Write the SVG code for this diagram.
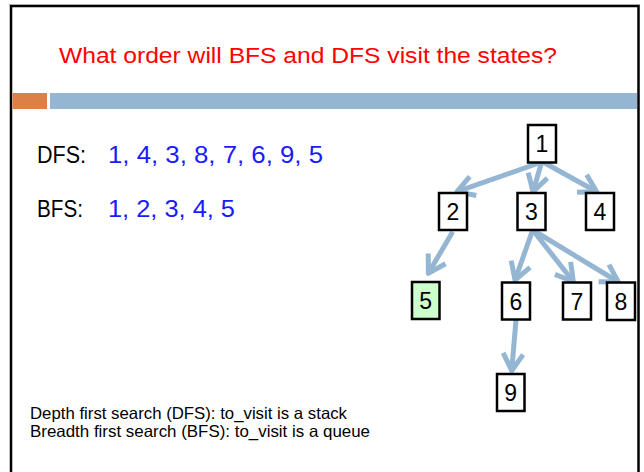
<svg xmlns="http://www.w3.org/2000/svg" width="644" height="472" viewBox="0 0 644 472">
<defs>
<style>
.node rect{fill:#ffffff;stroke:#000000;stroke-width:2.5}
.node text{font-family:"Liberation Sans",Arial,sans-serif;font-size:23px;fill:#000000;text-anchor:middle}
.edge{stroke:#94B6D2;stroke-width:5;fill:none;marker-end:url(#arrow)}
.txt{font-family:"Liberation Sans",Arial,sans-serif}
</style>
<marker id="arrow" markerUnits="userSpaceOnUse" markerWidth="40" markerHeight="40" viewBox="-20 -20 40 40" refX="0" refY="0" orient="auto" overflow="visible">
<path d="M-17,-10 L0,0 L-17,10" fill="none" stroke="#94B6D2" stroke-width="5" stroke-linejoin="round"/>
</marker>
</defs>
<rect x="0" y="0" width="644" height="472" fill="#ffffff"/>
<rect x="11" y="6" width="627.5" height="500" fill="none" stroke="#000000" stroke-width="2.5"/>
<line x1="9" y1="4.5" x2="640" y2="4.5" stroke="#aaaaaa" stroke-width="1"/>
<text class="txt" x="59" y="63" font-size="22.5" fill="#FF0000" textLength="498" lengthAdjust="spacingAndGlyphs">What order will BFS and DFS visit the states?</text>
<rect x="12.5" y="93" width="34.5" height="16" fill="#DD8047"/>
<rect x="50" y="93" width="587" height="16" fill="#94B6D2"/>
<text class="txt" x="37" y="163" font-size="23" fill="#000000" textLength="49" lengthAdjust="spacingAndGlyphs">DFS:</text>
<text class="txt" x="108" y="163" font-size="23" fill="#1a1aff" textLength="215" lengthAdjust="spacingAndGlyphs">1, 4, 3, 8, 7, 6, 9, 5</text>
<text class="txt" x="37" y="217" font-size="23" fill="#000000" textLength="46" lengthAdjust="spacingAndGlyphs">BFS:</text>
<text class="txt" x="108" y="217" font-size="23" fill="#1a1aff" textLength="127" lengthAdjust="spacingAndGlyphs">1, 2, 3, 4, 5</text>
<text class="txt" x="30" y="418.5" font-size="16.5" fill="#000000" textLength="317" lengthAdjust="spacingAndGlyphs">Depth first search (DFS): to_visit is a stack</text>
<text class="txt" x="30" y="437" font-size="16.5" fill="#000000" textLength="340" lengthAdjust="spacingAndGlyphs">Breadth first search (BFS): to_visit is a queue</text>
<g id="connectors">
<line class="edge" x1="541.7" y1="162" x2="457" y2="191.7"/>
<line class="edge" x1="541.7" y1="162" x2="533" y2="191.7"/>
<line class="edge" x1="543" y1="162" x2="596.7" y2="191.7"/>
<line class="edge" x1="452.7" y1="231.7" x2="428.3" y2="273.3"/>
<line class="edge" x1="532.7" y1="230" x2="515" y2="280"/>
<line class="edge" x1="532.7" y1="230" x2="573.3" y2="281.5"/>
<line class="edge" x1="532.7" y1="230" x2="618.3" y2="282"/>
<line class="edge" x1="516" y1="320" x2="511.7" y2="370.7"/>
</g>
<g id="node1" class="node"><rect x="528" y="125" width="28" height="37.5"/><text x="542" y="152">1</text></g>
<g id="node2" class="node"><rect x="439" y="193" width="28" height="37"/><text x="453" y="220">2</text></g>
<g id="node3" class="node"><rect x="517.5" y="193" width="28" height="37"/><text x="531.5" y="220">3</text></g>
<g id="node4" class="node"><rect x="586" y="193" width="28" height="37"/><text x="600" y="220">4</text></g>
<g id="node5" class="node"><rect x="412" y="282" width="27.5" height="37" style="fill:#CCFFCC"/><text x="425.75" y="309">5</text></g>
<g id="node6" class="node"><rect x="502" y="282.5" width="28" height="37"/><text x="516" y="309.5">6</text></g>
<g id="node7" class="node"><rect x="563" y="282.5" width="28" height="37"/><text x="577" y="309.5">7</text></g>
<g id="node8" class="node"><rect x="607" y="282.5" width="28" height="37.5"/><text x="621" y="309.5">8</text></g>
<g id="node9" class="node"><rect x="497" y="374" width="27.5" height="37"/><text x="510.75" y="401">9</text></g>
</svg>
